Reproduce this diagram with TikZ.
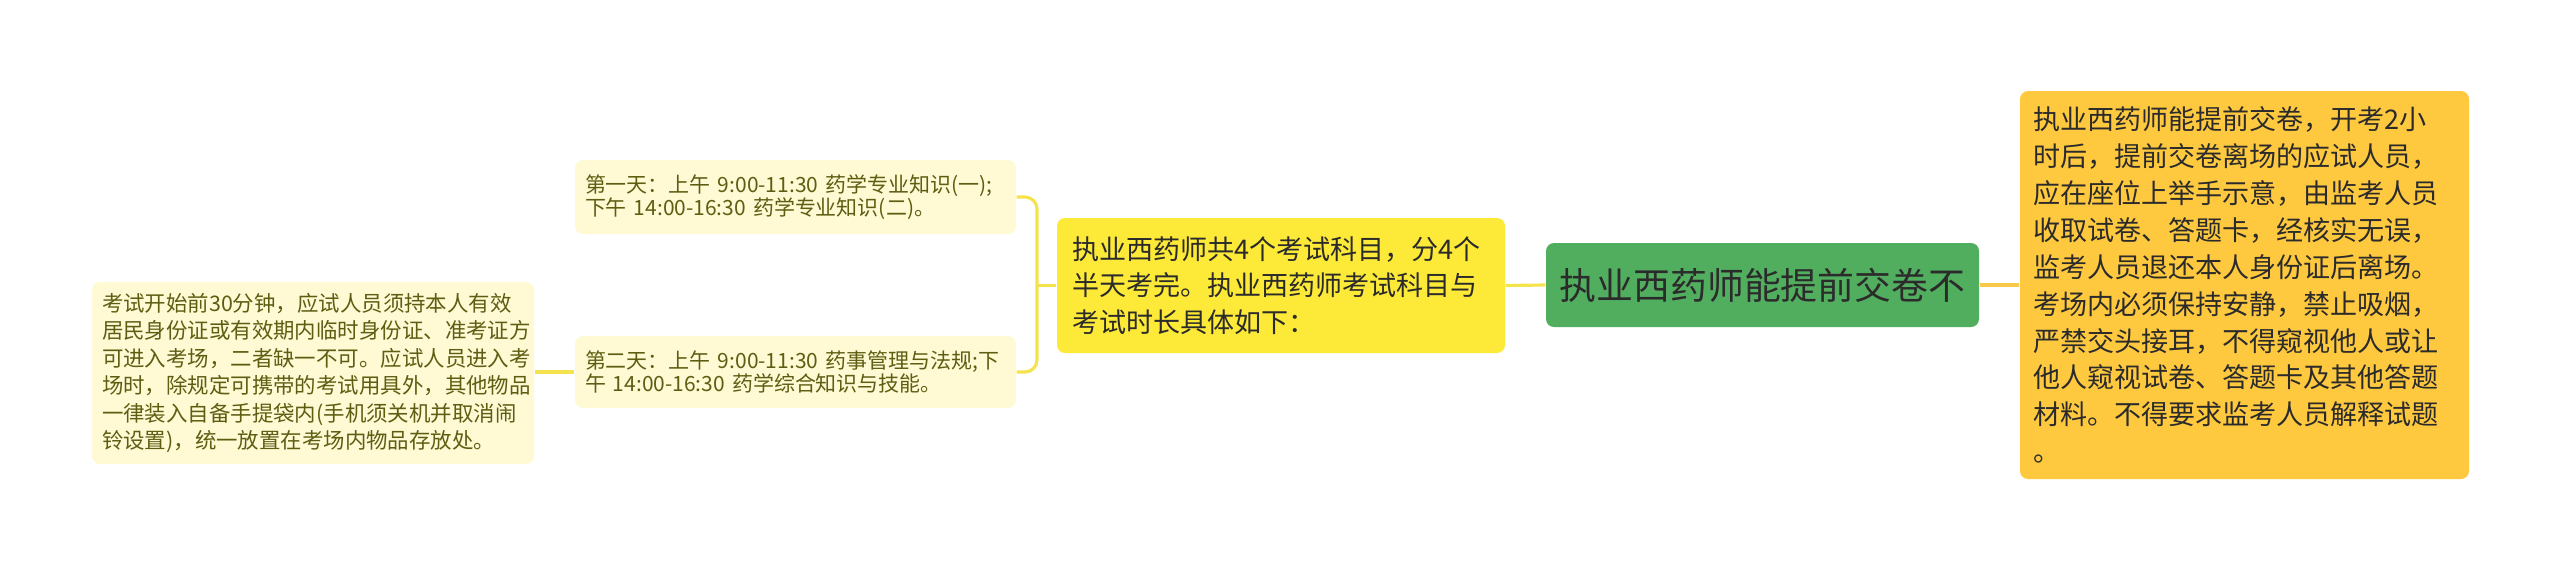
\documentclass[tikz,border=0pt]{standalone}
\usepackage{fontspec}
\setmainfont{Noto Sans CJK SC}
\usepackage{tikz}

\definecolor{rootgreen}{HTML}{52AE5F}
\definecolor{topicyellow}{HTML}{FDE937}
\definecolor{noteorange}{HTML}{FFC93F}
\definecolor{leafcream}{HTML}{FFF9D4}
\definecolor{leaftext}{HTML}{5E5E12}
\definecolor{darktext}{HTML}{2B2B2B}
\definecolor{lineyellow}{HTML}{F5E34E}
\definecolor{lineorange}{HTML}{F8C94A}

\begin{document}
\begin{tikzpicture}[
    box/.style={rounded corners=0.08cm, inner ysep=0.05cm, align=left},
    leaf/.style={box, fill=leafcream, text=leaftext, inner xsep=0.1cm,
        font=\fontsize{5.97pt}{6.7pt}\selectfont},
    linkY/.style={draw=lineyellow, line width=0.9pt},
    linkO/.style={draw=lineorange, line width=0.9pt}
]
    % Canvas
    \useasboundingbox (0,0) rectangle (25.6,-5.71);

    % Root
    \node[box, fill=rootgreen, text=darktext, align=center, inner sep=0pt,
        minimum width=4.33cm, minimum height=0.84cm,
        font=\fontsize{10.5pt}{12pt}\selectfont] (root) at (17.625,-2.85)
        {执业西药师能提前交卷不};

    % Right note
    \node[box, fill=noteorange, text=darktext, inner xsep=0.13cm,
        text width=4.23cm, minimum height=3.88cm,
        font=\fontsize{7.7pt}{10.5pt}\selectfont] (rule) at (22.445,-2.85)
        {执业西药师能提前交卷，开考2小\\
        时后，提前交卷离场的应试人员，\\
        应在座位上举手示意，由监考人员\\
        收取试卷、答题卡，经核实无误，\\
        监考人员退还本人身份证后离场。\\
        考场内必须保持安静，禁止吸烟，\\
        严禁交头接耳，不得窥视他人或让\\
        他人窥视试卷、答题卡及其他答题\\
        材料。不得要求监考人员解释试题\\
        。};

    % Left topic
    \node[box, fill=topicyellow, text=darktext, inner xsep=0.15cm,
        text width=4.18cm, minimum height=1.35cm,
        font=\fontsize{7.7pt}{10.4pt}\selectfont] (subject) at (12.81,-2.855)
        {执业西药师共4个考试科目，分4个\\
        半天考完。执业西药师考试科目与\\
        考试时长具体如下：};

    % Days
    \node[leaf, text width=4.21cm, minimum height=0.74cm] (dayone) at (7.955,-1.97)
        {第一天：上午 9:00-11:30 药学专业知识(一);\\
        下午 14:00-16:30 药学专业知识(二)。};
    \node[leaf, text width=4.21cm, minimum height=0.72cm] (daytwo) at (7.955,-3.72)
        {第二天：上午 9:00-11:30 药事管理与法规;下\\
        午 14:00-16:30 药学综合知识与技能。};

    % Entry rules
    \node[leaf, text width=4.22cm, minimum height=1.82cm,
        font=\fontsize{6.1pt}{7.85pt}\selectfont] (entry) at (3.13,-3.73)
        {考试开始前30分钟，应试人员须持本人有效\\
        居民身份证或有效期内临时身份证、准考证方\\
        可进入考场，二者缺一不可。应试人员进入考\\
        场时，除规定可携带的考试用具外，其他物品\\
        一律装入自备手提袋内(手机须关机并取消闹\\
        铃设置)，统一放置在考场内物品存放处。};

    % Links
    \draw[linkO] (root.east) -- (rule.west);
    \draw[linkY] (root.west) -- (subject.east);
    \coordinate (fork) at (10.37,-2.855);
    \draw[linkY] (fork) -- (subject.west);
    \draw[linkY, rounded corners=0.12cm] (dayone.east) -| (fork) |- (daytwo.east);
    \draw[linkY] (daytwo.west) -- (entry.east |- daytwo.west);
\end{tikzpicture}
\end{document}
